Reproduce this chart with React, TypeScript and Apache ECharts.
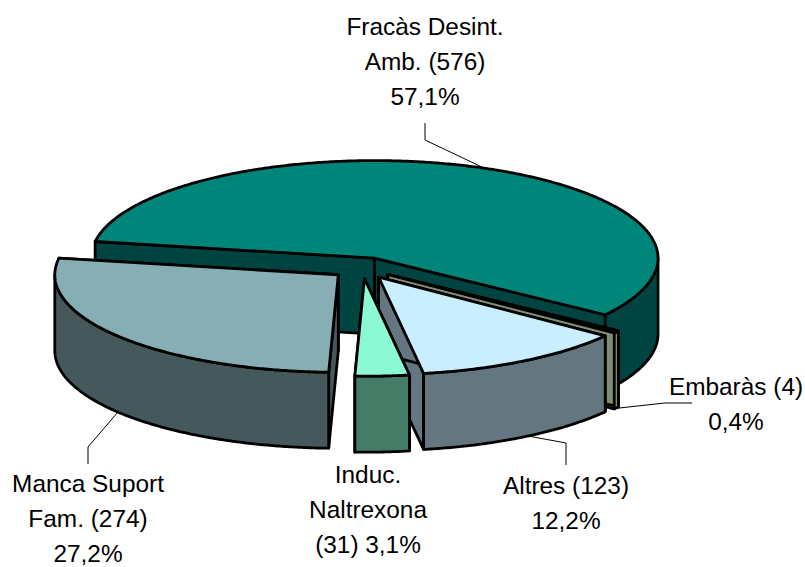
import React, { useEffect, useRef } from "react";
import * as echarts from "echarts";

const categories = ["Fracàs Desint. Amb.", "Embaràs", "Altres", "Induc. Naltrexona", "Manca Suport Fam."];
const values = [576, 4, 123, 31, 274];
const topColors = ["#00857B", "#7F8C76", "#C9EEFF", "#8AF9D4", "#88AEB5"];
const sideColors = ["#004441", "#7F8C76", "#64767F", "#457C68", "#45595C"];
const labels = [
  ["Fracàs Desint.", "Amb. (576)", "57,1%"],
  ["Embaràs (4)", "0,4%"],
  ["Altres (123)", "12,2%"],
  ["Induc.", "Naltrexona", "(31) 3,1%"],
  ["Manca Suport", "Fam. (274)", "27,2%"],
];

const CX = 362.5;
const CY = 268;
const RX = 283.5;
const RY = 97.5;
const DEPTH = 76;
const EXPLODE = 0.11;
const START_ANGLE = 170.2;
const total = values.reduce((a, b) => a + b, 0);

const rad = (d: number) => (d * Math.PI) / 180;
const angleBefore = (i: number) =>
  START_ANGLE - (values.slice(0, i).reduce((a, b) => a + b, 0) / total) * 360;

function renderSlice(params: any, api: any) {
  const i = params.dataIndex;
  const sweep = (api.value(0) / total) * 360;
  const a0 = angleBefore(i);
  const a1 = a0 - sweep;
  const mid = rad((a0 + a1) / 2);
  const ax = CX + RX * EXPLODE * Math.cos(mid);
  const ay = CY - RY * EXPLODE * Math.sin(mid);
  const at = (a: number) => [ax + RX * Math.cos(rad(a)), ay - RY * Math.sin(rad(a))];
  const arc = (hi: number, lo: number) => {
    const pts: number[][] = [];
    const n = Math.max(2, Math.ceil((hi - lo) * 2));
    for (let k = 0; k <= n; k++) pts.push(at(hi - ((hi - lo) * k) / n));
    return pts;
  };
  const base = { lineWidth: 2.8, stroke: "#000", lineJoin: "round" };
  const side = { ...base, fill: sideColors[i] };
  const drop = (p: number[]) => [p[0], p[1] + DEPTH];
  const children: any[] = [];
  [a1, a0].forEach((a) => {
    const e = at(a);
    children.push({
      type: "polygon",
      shape: { points: [[ax, ay], e, drop(e), [ax, ay + DEPTH]] },
      style: side,
    });
  });
  const hi = Math.min(a0, 0);
  const lo = Math.max(a1, -180);
  if (hi > lo) {
    const top = arc(hi, lo);
    children.push({
      type: "polygon",
      shape: { points: [...top, ...top.map(drop).reverse()] },
      style: side,
    });
  }
  children.push({
    type: "polygon",
    shape: { points: [[ax, ay], ...arc(a0, a1)] },
    style: { ...base, fill: topColors[i] },
  });
  return { type: "group", children };
}

const textStyle = {
  fontFamily: "'Liberation Sans', Arial, sans-serif",
  fontSize: 24.4,
  fill: "#000",
  lineHeight: 22,
  align: "center",
  verticalAlign: "middle",
};
const LINE_STEP = 35;
const labelPlaces = [
  [425, 26],
  [736, 386],
  [566, 485],
  [368, 474],
  [88, 483],
];
const leaders = [
  [[425, 123], [425, 140], [484, 168]],
  [[610, 409], [665, 403], [692, 403]],
  [[528, 436], [566, 443], [566, 465]],
  [[88, 464], [88, 447], [118, 412]],
];

export default function App() {
  const ref = useRef<HTMLDivElement>(null);
  useEffect(() => {
    const chart = echarts.init(ref.current!, null, { renderer: "svg" });
    chart.setOption({
      animation: false,
      backgroundColor: "#fff",
      graphic: [
        ...leaders.map((points) => ({
          type: "polyline",
          z: 10,
          shape: { points },
          style: { stroke: "#000", lineWidth: 1, fill: "none" },
        })),
        ...labels.flatMap((lines, i) =>
          lines.map((text, k) => ({
            type: "text",
            z: 10,
            x: labelPlaces[i][0],
            y: labelPlaces[i][1] + k * LINE_STEP,
            style: { ...textStyle, text },
          }))
        ),
      ],
      series: [
        {
          type: "custom",
          name: "Motius",
          coordinateSystem: "none",
          silent: true,
          renderItem: renderSlice,
          data: values.map((value, i) => ({ name: categories[i], value })),
        },
      ],
    });
    return () => chart.dispose();
  }, []);
  return <div ref={ref} style={{ position: "absolute", left: 0, top: 0, width: 805, height: 567 }} />;
}
